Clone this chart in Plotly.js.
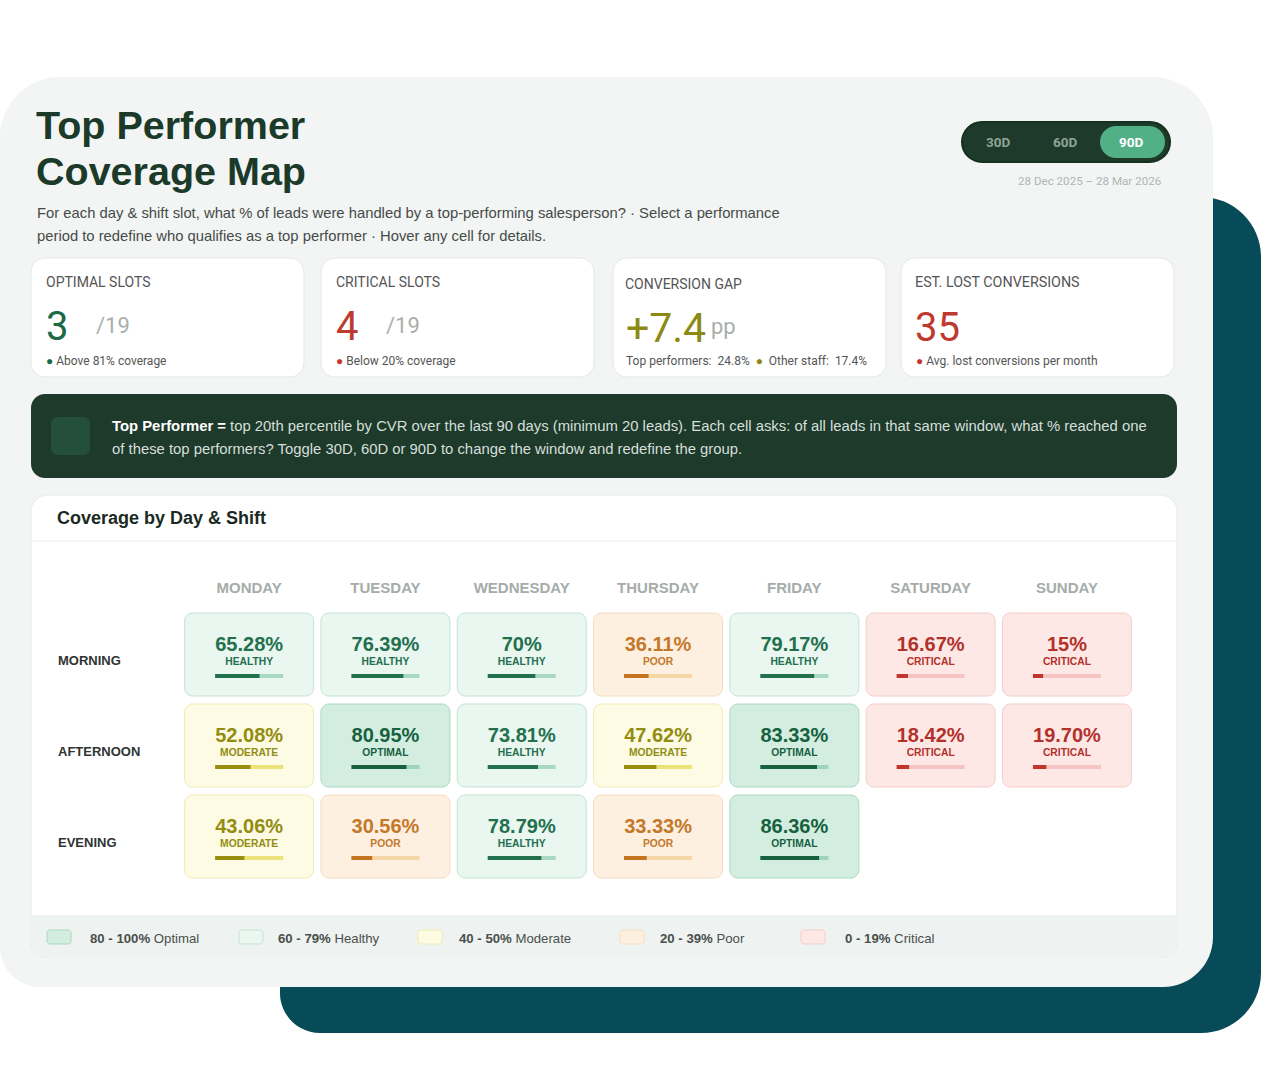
<!DOCTYPE html>
<html><head><meta charset="utf-8">
<script src="https://cdn.plot.ly/plotly-3.0.1.min.js"></script>
<style>html,body{margin:0;padding:0;background:#fff;}#chart{width:1261px;height:1090px;}</style>
</head><body><div id="chart"></div>
<script>
// ---------- DATA ----------
const days = ["MONDAY","TUESDAY","WEDNESDAY","THURSDAY","FRIDAY","SATURDAY","SUNDAY"];
const shifts = ["MORNING","AFTERNOON","EVENING"];
const morning   = [65.28, 76.39, 70, 36.11, 79.17, 16.67, 15];
const afternoon = [52.08, 80.95, 73.81, 47.62, 83.33, 18.42, 19.70];
const evening   = [43.06, 30.56, 78.79, 33.33, 86.36, null, null];
const periods = ["30D","60D","90D"];
const activePeriod = "90D";
const dateRange = "28 Dec 2025 \u2013 28 Mar 2026";
const optimalSlots = 3, criticalSlots = 4, totalSlots = 19;
const conversionGap = 7.4, topPerformerCvr = 24.8, otherStaffCvr = 17.4;
const lostConversions = 35;
const legendRanges = ["80 - 100%","60 - 79%","40 - 50%","20 - 39%","0 - 19%"];
const legendNames  = ["Optimal","Healthy","Moderate","Poor","Critical"];

// ---------- STYLE ----------
const W = 1261, H = 1090;
const SANS = "Liberation Sans, Arial, sans-serif";
const DIN = "Roboto, sans-serif";
const CAT = {
  OPTIMAL:  {bg:'#d3eee1', border:'#a9d8c1', text:'#17613f', bar:'#17613f', track:'#9ed4bb'},
  HEALTHY:  {bg:'#eaf6f0', border:'#c3e3d4', text:'#23704e', bar:'#23704e', track:'#a9d8c3'},
  MODERATE: {bg:'#fefbe4', border:'#f0ebb4', text:'#928c12', bar:'#998d10', track:'#ebe37a'},
  POOR:     {bg:'#fdf0e1', border:'#f5dcc0', text:'#c4782a', bar:'#c4741f', track:'#f5d6a6'},
  CRITICAL: {bg:'#fde8e6', border:'#f4cdca', text:'#b3312b', bar:'#c0362c', track:'#f5c4c2'}
};
const catKeys = ["OPTIMAL","HEALTHY","MODERATE","POOR","CRITICAL"];
function category(v){ return v>=80?"OPTIMAL":v>=60?"HEALTHY":v>=40?"MODERATE":v>=20?"POOR":"CRITICAL"; }
function fmt(v){ return (Number.isInteger(v)? String(v) : v.toFixed(2)) + "%"; }

// grid geometry (px)
const gridL = 181, colW = 136.3, gridT = 609, rowH = 91;
const gridR = gridL + colW*days.length, gridB = gridT + rowH*shifts.length;
const cellW = 129/colW, cellH = 83/rowH;

const X = p => p/W, Y = p => 1 - p/H, I = v => v;
const K = 0.5523;
function rpath(x0,y0,x1,y1,rx,ry,fx,fy){
  const P=(x,y)=>fx(x).toFixed(5)+','+fy(y).toFixed(5);
  let s='M'+P(x0+rx[0],y0);
  s+=' L'+P(x1-rx[1],y0);
  s+=' C'+P(x1-rx[1]+K*rx[1],y0)+' '+P(x1,y0+ry[1]-K*ry[1])+' '+P(x1,y0+ry[1]);
  s+=' L'+P(x1,y1-ry[2]);
  s+=' C'+P(x1,y1-ry[2]+K*ry[2])+' '+P(x1-rx[2]+K*rx[2],y1)+' '+P(x1-rx[2],y1);
  s+=' L'+P(x0+rx[3],y1);
  s+=' C'+P(x0+rx[3]-K*rx[3],y1)+' '+P(x0,y1-ry[3]+K*ry[3])+' '+P(x0,y1-ry[3]);
  s+=' L'+P(x0,y0+ry[0]);
  s+=' C'+P(x0,y0+ry[0]-K*ry[0])+' '+P(x0+rx[0]-K*rx[0],y0)+' '+P(x0+rx[0],y0);
  return s+' Z';
}
const shapes = [];
function box(x0,y0,x1,y1,r,fill,line,lw){
  const rs = Array.isArray(r)?r:[r,r,r,r];
  shapes.push({type:'path', xref:'paper', yref:'paper', layer:'below',
    path:rpath(x0,y0,x1,y1,rs,rs,X,Y), fillcolor:fill,
    line:{color:line||fill, width: line?(lw||1):0}});
}
function hline(x0,x1,y,color){
  shapes.push({type:'line', xref:'paper', yref:'paper', layer:'below',
    x0:X(x0), x1:X(x1), y0:Y(y), y1:Y(y), line:{color:color, width:1}});
}
const ann = [];
function T(text,x,y,o){
  o=o||{};
  ann.push({text:text, xref:'paper', yref:'paper', x:X(x), y:Y(y), showarrow:false,
    xanchor:o.anchor||'left', yanchor:'middle', borderpad:0,
    font:{family:o.family||SANS, size:o.size||14, color:o.color||'#333', weight:o.weight||400}});
}

// ---------- BACKGROUND DECOR ----------
box(280,197,1261,1033,[60,60,60,40],'#074b58');
box(0,77,1213,987,[60,60,50,40],'#f2f5f3');

// title block
T('<b>Top Performer</b>',35,125,{size:39.5,color:'#1b3a29'});
T('<b>Coverage Map</b>',35,171,{size:39.5,color:'#1b3a29'});
T('For each day &amp; shift slot, what % of leads were handled by a top-performing salesperson? \u00b7 Select a performance',36,213,{size:14.8,color:'#454b48'});
T('period to redefine who qualifies as a top performer \u00b7 Hover any cell for details.',36,236,{size:14.8,color:'#454b48'});

// period toggle
box(962,122,1170,162,20,'#1e3a2b','#16301f',2);
const toggleX = [998,1065,1131];
periods.forEach((p,i)=>{
  if(p===activePeriod) box(1100,126,1165,158,16,'#52b086');
  T(p,toggleX[i],142,{family:DIN,size:13.5,weight:700,anchor:'center',color:p===activePeriod?'#ffffff':'#8da596'});
});
T(dateRange,1162,181,{family:DIN,size:11.6,color:'#b0b6b3',anchor:'right'});

// KPI cards
const cards = [[31,304],[321,594],[613,886],[901,1174]];
cards.forEach(c=>box(c[0],258,c[1],377,14,'#ffffff','#e3e8e5'));
T('OPTIMAL SLOTS',45,282,{family:DIN,size:14,color:'#555'});
T(String(optimalSlots),45,326,{family:DIN,size:40,color:'#1b6a47'});
T('/'+totalSlots,95,325,{family:DIN,size:22,color:'#a9aeab'});
T('<span style="color:#1b6a47">\u25cf</span> Above 81% coverage',45,361,{family:DIN,size:12,color:'#555'});

T('CRITICAL SLOTS',335,282,{family:DIN,size:14,color:'#555'});
T(String(criticalSlots),335,326,{family:DIN,size:40,color:'#bf3a2e'});
T('/'+totalSlots,385,325,{family:DIN,size:22,color:'#a9aeab'});
T('<span style="color:#bf3a2e">\u25cf</span> Below 20% coverage',335,361,{family:DIN,size:12,color:'#555'});

T('CONVERSION GAP',624,284,{family:DIN,size:14,color:'#555'});
T('+'+conversionGap.toFixed(1),625,328,{family:DIN,size:41,color:'#8c8a14'});
T('pp',710,326,{family:DIN,size:22,color:'#a9aeab'});
T('Top performers:  '+topPerformerCvr.toFixed(1)+'%  <span style="color:#8c8a14">\u25cf</span>  Other staff:  '+otherStaffCvr.toFixed(1)+'%',625,361,{family:DIN,size:12,color:'#555'});

T('EST. LOST CONVERSIONS',914,282,{family:DIN,size:14.3,color:'#555'});
T(String(lostConversions),914,327,{family:DIN,size:40,color:'#bf3a2e'});
T('<span style="color:#bf3a2e">\u25cf</span> Avg. lost conversions per month',915,361,{family:DIN,size:12,color:'#555'});

// banner
box(31,394,1177,478,14,'#1d3a2b');
box(51,417,90,455,7,'#245039');
T('<b style="color:#ffffff">Top Performer =</b> top 20th percentile by CVR over the last 90 days (minimum 20 leads). Each cell asks: of all leads in that same window, what % reached one',111,426,{size:14.85,color:'#d6dfda'});
T('of these top performers? Toggle 30D, 60D or 90D to change the window and redefine the group.',111,449,{size:14.85,color:'#d6dfda'});

// chart card
box(31,495,1177,957,16,'#ffffff','#e5e9e7');
box(32,916,1176,956,[0,0,15,15],'#eef2f0');
hline(32,1176,916,'#e3e8e5');
hline(32,1176,541,'#eef1ef');
T('<b>Coverage by Day &amp; Shift</b>',56,518,{size:18,color:'#1a2a22'});

// legend
const swX = [47,239,418,620,801], lgX = [89,277,458,659,844];
catKeys.forEach((k,i)=>{
  box(swX[i],930,swX[i]+24,944,3,CAT[k].bg,CAT[k].border);
  T('<b>'+legendRanges[i]+'</b> '+legendNames[i],lgX[i],938,{size:13.2,color:'#4a4f4c'});
});

// ---------- CELLS (data coords) ----------
const rows = [morning, afternoon, evening];
const rxd = 8/colW, ryd = 8/rowH;
const pctX=[],pctY=[],pctT=[],pctC=[],stX=[],stY=[],stT=[],stC=[];
const trk={}, fil={};
catKeys.forEach(k=>{trk[k]={x:[],y:[]}; fil[k]={x:[],y:[]};});
const barHalf = 34/colW;
rows.forEach((vals,r)=>{
  vals.forEach((v,c)=>{
    if(v===null) return;
    const k = category(v), s = CAT[k];
    shapes.push({type:'path', xref:'x', yref:'y', layer:'below',
      path: rpath(c-cellW/2, r-cellH/2, c+cellW/2, r+cellH/2, [rxd,rxd,rxd,rxd],[ryd,ryd,ryd,ryd], I, I),
      fillcolor:s.bg, line:{color:s.border, width:1}});
    pctX.push(c); pctY.push(r-8.5/rowH); pctT.push(fmt(v)); pctC.push(s.text);
    stX.push(c); stY.push(r+8/rowH); stT.push(k); stC.push(s.text);
    const by = r+21.5/rowH;
    trk[k].x.push(c-barHalf, c+barHalf, null); trk[k].y.push(by,by,null);
    fil[k].x.push(c-barHalf, c-barHalf+2*barHalf*v/100, null); fil[k].y.push(by,by,null);
  });
});
const traces = [];
catKeys.forEach(k=>{
  traces.push({type:'scatter',mode:'lines',x:trk[k].x,y:trk[k].y,line:{color:CAT[k].track,width:4},hoverinfo:'skip',showlegend:false});
});
catKeys.forEach(k=>{
  traces.push({type:'scatter',mode:'lines',x:fil[k].x,y:fil[k].y,line:{color:CAT[k].bar,width:4},hoverinfo:'skip',showlegend:false});
});
traces.push({type:'scatter',mode:'text',x:pctX,y:pctY,text:pctT,textposition:'middle center',
  textfont:{family:SANS,size:20,color:pctC,weight:700},hoverinfo:'skip',showlegend:false});
traces.push({type:'scatter',mode:'text',x:stX,y:stY,text:stT,textposition:'middle center',
  textfont:{family:SANS,size:10.3,color:stC,weight:700},hoverinfo:'skip',showlegend:false});

// row labels
shifts.forEach((s,r)=>{
  ann.push({text:'<b>'+s+'</b>', xref:'paper', yref:'y', x:X(57), y:r, yshift:-6, xanchor:'left', yanchor:'middle',
    borderpad:0, showarrow:false, font:{family:SANS,size:13,color:'#2f3431'}});
});

const layout = {
  width:W, height:H, margin:{l:0,r:0,t:0,b:0},
  paper_bgcolor:'#ffffff', plot_bgcolor:'rgba(0,0,0,0)',
  showlegend:false, hovermode:false,
  xaxis:{domain:[X(gridL),X(gridR)], range:[-0.5,days.length-0.5], side:'top',
    tickvals:days.map((d,i)=>i), ticktext:days, tickfont:{family:SANS,size:15,color:'#a6aca9',weight:700},
    ticklabelstandoff:12,
    showgrid:false, zeroline:false, showline:false, ticks:'', fixedrange:true},
  yaxis:{domain:[Y(gridB),Y(gridT)], range:[shifts.length-0.5,-0.5], showticklabels:false,
    showgrid:false, zeroline:false, showline:false, ticks:'', fixedrange:true},
  shapes:shapes, annotations:ann
};
Plotly.newPlot('chart', traces, layout, {staticPlot:true, displayModeBar:false});
</script></body></html>
